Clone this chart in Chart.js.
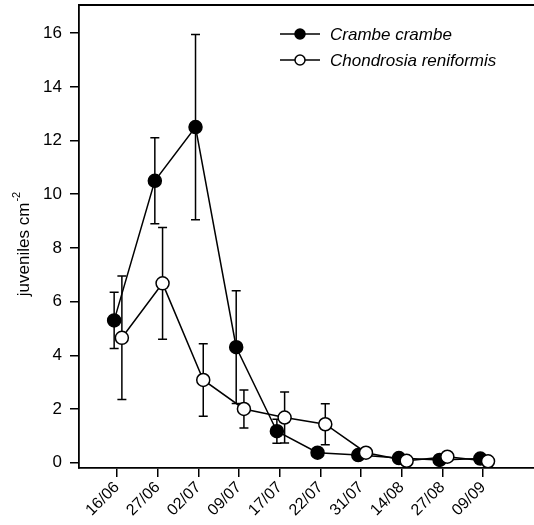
<!DOCTYPE html>
<html>
<head>
<meta charset="utf-8">
<script src="https://cdn.jsdelivr.net/npm/chart.js@4/dist/chart.umd.min.js"></script>
<style>
html,body{margin:0;padding:0;background:#fff;}
canvas{display:block;}
</style>
</head>
<body>
<canvas id="c" width="534" height="525"></canvas>
<script>
const dates = ['16/06','27/06','02/07','09/07','17/07','22/07','31/07','14/08','27/08','09/09'];
const crambe = [5.3, 10.5, 12.5, 4.3, 1.17, 0.37, 0.28, 0.17, 0.1, 0.15];
const crambeErr = [1.05, 1.6, 3.45, 2.1, 0.45, 0, 0, 0, 0, 0];
const chondrosia = [4.65, 6.68, 3.08, 2.0, 1.68, 1.43, 0.37, 0.07, 0.22, 0.05];
const chondrosiaErr = [2.3, 2.08, 1.35, 0.71, 0.95, 0.76, 0, 0, 0, 0];
const yTicks = [0, 2, 4, 6, 8, 10, 12, 14, 16];
const dodge = [-0.07, 0.12];

const FONT = 'Liberation Sans, Arial, sans-serif';

function pts(vals, err, d) {
  return vals.map((v, i) => ({x: i + d, y: v, e: err[i]}));
}

const errorBars = {
  id: 'errorBars',
  beforeDatasetsDraw(chart) {
    const ctx = chart.ctx;
    const ys = chart.scales.y, xs = chart.scales.x;
    ctx.save();
    ctx.strokeStyle = '#000';
    ctx.lineWidth = 1.5;
    chart.data.datasets.forEach(ds => {
      ds.data.forEach(p => {
        if (!p.e) return;
        const x = xs.getPixelForValue(p.x);
        const y1 = ys.getPixelForValue(p.y + p.e);
        const y2 = ys.getPixelForValue(p.y - p.e);
        ctx.beginPath();
        ctx.moveTo(x, y1); ctx.lineTo(x, y2);
        ctx.moveTo(x - 4.5, y1); ctx.lineTo(x + 4.5, y1);
        ctx.moveTo(x - 4.5, y2); ctx.lineTo(x + 4.5, y2);
        ctx.stroke();
      });
    });
    ctx.restore();
  }
};

const decor = {
  id: 'decor',
  afterDraw(chart) {
    const ctx = chart.ctx;
    const a = chart.chartArea;
    ctx.save();
    ctx.strokeStyle = '#000';
    ctx.lineWidth = 1.8;
    ctx.beginPath();
    ctx.moveTo(a.left, a.top); ctx.lineTo(chart.width, a.top);
    ctx.stroke();
    const legendOrder = [0, 1];
    legendOrder.forEach((idx, k) => {
      const ds = chart.data.datasets[idx];
      const y = 34 + k * 26;
      ctx.strokeStyle = '#000';
      ctx.lineWidth = 1.5;
      ctx.beginPath();
      ctx.moveTo(280, y); ctx.lineTo(320, y);
      ctx.stroke();
      ctx.beginPath();
      ctx.arc(300, y, 5, 0, Math.PI * 2);
      ctx.fillStyle = ds.pointBackgroundColor;
      ctx.fill();
      ctx.stroke();
      ctx.fillStyle = '#000';
      ctx.font = 'italic 17px ' + FONT;
      ctx.textBaseline = 'middle';
      ctx.textAlign = 'left';
      ctx.fillText(ds.label, 330, y + 1);
    });
    ctx.translate(24, (a.top + a.bottom) / 2 + 8);
    ctx.rotate(-Math.PI / 2);
    ctx.font = '17px ' + FONT;
    const main = 'juveniles cm';
    const w1 = ctx.measureText(main).width;
    ctx.font = '11px ' + FONT;
    const w2 = ctx.measureText('-2').width;
    const start = -(w1 + w2) / 2;
    ctx.textBaseline = 'middle';
    ctx.textAlign = 'left';
    ctx.font = '17px ' + FONT;
    ctx.fillText(main, start, 0);
    ctx.font = '11px ' + FONT;
    ctx.fillText('-2', start + w1 + 1, -7);
    ctx.restore();
  }
};

new Chart(document.getElementById('c'), {
  type: 'line',
  data: {
    datasets: [
      {
        label: 'Crambe crambe',
        data: pts(crambe, crambeErr, dodge[0]),
        borderColor: '#000', borderWidth: 1.5,
        pointRadius: 6.5, pointBackgroundColor: '#000', pointBorderColor: '#000', pointBorderWidth: 1.5,
        order: 2, tension: 0
      },
      {
        label: 'Chondrosia reniformis',
        data: pts(chondrosia, chondrosiaErr, dodge[1]),
        borderColor: '#000', borderWidth: 1.5,
        pointRadius: 6.5, pointBackgroundColor: '#fff', pointBorderColor: '#000', pointBorderWidth: 1.5,
        order: 1, tension: 0
      }
    ]
  },
  options: {
    responsive: false,
    animation: false,
    devicePixelRatio: 1,
    layout: {autoPadding: false, padding: {top: 5, right: 0, left: 0, bottom: 0}},
    plugins: {legend: {display: false}, tooltip: {enabled: false}},
    scales: {
      x: {
        type: 'linear',
        min: -0.934, max: 10.25,
        afterBuildTicks: s => { s.ticks = dates.map((d, i) => ({value: i})); },
        afterFit: s => { s.height = 57; s.paddingLeft = 0; s.paddingRight = 0; },
        grid: {display: true, drawOnChartArea: false, drawTicks: true, tickLength: 9, color: '#000', lineWidth: 1.5},
        border: {display: true, color: '#000', width: 1.8},
        ticks: {
          autoSkip: false, minRotation: 45, maxRotation: 45, padding: 1,
          color: '#000', font: {family: FONT, size: 16},
          callback: v => dates[Math.round(v)]
        }
      },
      y: {
        min: -0.2, max: 17.05,
        afterBuildTicks: s => { s.ticks = yTicks.map(v => ({value: v})); },
        afterFit: s => { s.width = 79; s.paddingTop = 0; s.paddingBottom = 0; },
        grid: {display: true, drawOnChartArea: false, drawTicks: true, tickLength: 9, color: '#000', lineWidth: 1.5},
        border: {display: true, color: '#000', width: 1.8},
        ticks: {color: '#000', font: {family: FONT, size: 17}, padding: 8}
      }
    }
  },
  plugins: [errorBars, decor]
});
</script>
</body>
</html>
